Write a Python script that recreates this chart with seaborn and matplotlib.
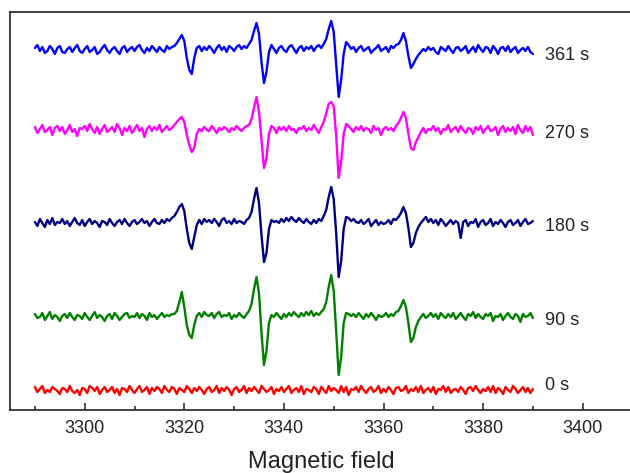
import numpy as np
import matplotlib
matplotlib.use("Agg")
import matplotlib.pyplot as plt
from matplotlib.ticker import MultipleLocator
import seaborn as sns

# field axis of the recorded spectra (gauss), 0.5 G steps
field = np.arange(3290, 3390.5, 0.5)

# signal, relative to each trace's baseline
sig_361 = [
    2, 5, -1, 3, -3, -1, 4, 1, -4, 2,
    4, -2, -3, 1, 3, -2, 2, 5, -1, -3,
    1, 4, -2, 0, 3, -4, -2, 2, 5, 0,
    -3, 1, 3, -1, -4, 2, 4, -2, 1, 3,
    -1, 3, 5, 0, -3, 2, -1, 4, 1, -2,
    3, 0, -2, 4, 1, 3, 4, 7, 11, 15,
    9, -8, -20, -24, -8, 2, 4, -1, 3, 0,
    4, 1, -3, 2, 5, 0, 3, -2, 4, 2,
    -1, 3, 5, 1, 4, 2, 6, 10, 19, 27,
    16, -12, -33, -22, -2, 5, 1, -3, 2, 4,
    0, -2, 3, 5, 1, -3, 2, 4, -1, 3,
    1, 4, -1, 3, 5, 2, 6, 11, 21, 29,
    18, -14, -47, -30, -4, 8, 5, 1, 3, -2,
    2, 4, -1, 1, 3, -3, 0, 2, 5, -1,
    1, 3, -2, 4, 2, 5, 6, 10, 17, 9,
    -6, -18, -14, -9, -5, -2, 1, -1, 3, 0,
    2, -2, -4, 3, 1, -1, 4, 0, -3, 2,
    3, -1, 1, 4, -3, 0, 3, -2, 5, 1,
    -2, 3, 2, -3, 4, 1, -4, 2, 3, -1,
    4, -2, 1, 3, -3, 0, 2, -1, 3, -2,
    -4]

sig_270 = [
    3, -3, 1, 5, -2, 0, 3, -5, 2, 4,
    -1, 3, -4, 0, 5, -2, 1, -6, 2, 1,
    4, -1, 6, 1, -3, 3, -4, 1, 5, -2,
    0, 3, -2, 6, 2, -5, 2, -1, 4, -3,
    1, 5, -1, 2, -7, 1, 4, -1, 3, 0,
    5, -2, 1, 4, 0, 2, 5, 8, 11, 13,
    8, -5, -15, -22, -18, -4, 1, -1, 3, 0,
    -1, 4, 1, -3, 2, 0, 3, 1, -2, 2,
    0, 4, 1, -1, 2, 4, 5, 11, 22, 33,
    18, -10, -38, -28, -4, 4, 2, -3, 3, 0,
    3, -1, 4, 0, 1, -3, 2, 1, 4, -1,
    2, 0, 5, 1, -3, 3, 8, 17, 26, 28,
    24, -6, -48, -32, -4, 6, 4, 1, -2, 3,
    0, 4, -1, 2, 1, -3, 4, 0, 2, -5,
    1, 3, 0, 2, -1, 4, 7, 12, 18, 12,
    -4, -18, -20, -12, -7, -2, 2, -3, 1, 0,
    4, -1, 2, -4, 1, 0, 5, -2, 1, 3,
    -2, 4, 0, -3, 2, 1, -4, 3, 0, 4,
    -3, 1, 4, -1, 0, 3, -5, 1, 4, -2,
    2, -1, 3, -4, 5, 0, -3, 4, -1, 3,
    -5]

sig_180 = [
    1, -3, 4, 0, -4, 3, -1, 5, -2, 1,
    0, 4, -1, 2, -3, 1, 5, 0, -2, 3,
    -3, 1, 4, -1, 2, 0, -4, 2, 1, -2,
    4, 0, -3, 1, 3, -1, 4, 0, -3, 1,
    3, -1, 1, 4, 0, 2, -3, 1, 4, 0,
    -1, 3, 0, 4, 2, 5, 7, 11, 16, 19,
    12, -6, -20, -26, -14, -2, 3, -1, 4, 1,
    3, 0, 4, 1, -3, 3, 5, 0, 2, -1,
    4, 0, 2, 1, -1, 3, 5, 11, 24, 35,
    20, -12, -39, -30, -6, 3, 1, 2, 0, 4,
    1, 5, 2, 6, 3, 1, 5, 2, 0, 4,
    1, -1, 3, 0, 4, 2, 7, 13, 26, 36,
    24, -10, -54, -38, -6, 6, 5, 2, 4, 1,
    0, 3, -1, 1, 4, -3, 0, 3, -2, 1,
    -1, 0, 3, -1, 4, 3, 6, 10, 16, 10,
    -5, -24, -20, -10, -4, 0, 3, 6, 1, 4,
    0, 3, -2, 4, 1, -3, 0, 3, -1, 2,
    0, -15, 1, 3, -3, 1, 0, 4, -4, 1,
    3, -2, 0, 4, -3, 1, -1, 3, 0, -4,
    1, 3, -2, 0, 3, -3, 1, 4, -1, 0,
    2]

sig_90 = [
    3, -1, 0, 4, -3, 1, 5, -2, 2, 0,
    -4, 1, 3, -1, 4, 0, -3, 2, 1, -2,
    4, 0, -3, 1, 5, -1, 2, 0, -4, 1,
    3, -2, 4, 1, -3, 0, 3, 4, -1, 1,
    0, 4, -1, 3, 1, -3, 4, 0, 2, -2,
    1, 4, 0, 2, 1, 3, 3, 6, 15, 25,
    10, -8, -18, -21, -8, 1, 4, 0, 5, 2,
    1, 4, -1, 3, 5, 0, 2, 1, 4, -2,
    2, 0, 4, 1, -1, 3, 6, 13, 28, 40,
    24, -16, -48, -34, -6, 2, 0, 4, 1, -2,
    3, 0, 4, 1, 5, 2, 0, 4, 1, 5,
    2, 6, 1, 4, 2, 5, 8, 15, 30, 42,
    26, -14, -58, -40, -6, 4, 3, 1, 3, 0,
    4, 1, -2, 3, 0, 4, 1, -3, 2, 0,
    1, 4, 0, 3, 1, 5, 6, 11, 17, 10,
    -6, -25, -21, -10, -4, 0, 3, -1, 1, 4,
    0, 3, -2, 4, 1, -1, 3, 0, 4, -2,
    1, 4, 0, -3, 3, 1, 5, -1, 3, 0,
    -2, 3, 1, 4, -4, 1, 0, 3, -3, 1,
    4, 0, -2, 3, 1, -5, 3, 0, 1, 4,
    -1]

sig_0 = [
    3, -2, 1, 4, -3, 0, -2, 3, 1, -1,
    -4, 2, 1, -2, 4, -1, -3, 0, -5, 2,
    1, -3, 4, 2, -1, 3, -4, 0, 3, -2,
    0, 3, -3, 1, -5, 2, 1, -2, 4, 0,
    -3, 1, 4, -2, 0, 3, -4, 2, -1, 3,
    1, -3, 4, 0, -2, 3, 1, -4, 2, 0,
    -2, 4, 1, -3, 2, -1, 3, 0, -4, 1,
    3, -2, 0, 4, -3, 2, -1, 3, 0, -5,
    1, 3, -2, 0, 4, -3, 2, -1, 3, 0,
    -3, 4, 1, -2, 0, 3, -4, 1, -1, 3,
    -2, 1, 4, -3, 0, 2, -2, 4, -4, 1,
    0, -2, 3, 1, -4, 3, 0, -3, 4, -1,
    2, 0, -3, 4, -2, 3, -5, 1, 0, 3,
    -2, 4, 0, -3, 1, 3, -2, 0, 4, -3,
    1, -2, 3, 0, -4, 2, 3, -1, 0, 4,
    -3, 1, -1, 3, -2, 4, -3, 0, 2, -2,
    3, -4, 1, 0, 4, -2, 3, -3, 0, 1,
    -2, 3, 0, -4, 2, 3, -1, 4, 0, -3,
    1, -1, 3, -2, 4, -3, 2, 0, -4, 3,
    0, -2, 4, 1, -3, 0, 3, -2, 2, -3,
    1]

labels = ["361 s", "270 s", "180 s", "90 s", "0 s"]
signals = [sig_361, sig_270, sig_180, sig_90, sig_0]
offsets = [360, 280, 187, 93, 20]
colors = ["#0000ff", "#ff00ff", "#000080", "#008000", "#ff0000"]
label_dy = [-5, -3, -3, -3, 5]

sns.set_style("ticks")
plt.rcParams['font.family'] = ['Liberation Sans', 'DejaVu Sans']

fig = plt.figure(figsize=(6.3, 4.73), dpi=100)
ax = fig.add_axes([10 / 630, 63 / 473, 622.5 / 630, 398 / 473])

for lab, sig, off, col, dy in zip(labels, signals, offsets, colors, label_dy):
    sns.lineplot(x=field, y=np.array(sig) + off, color=col, lw=1.7,
                 estimator=None, ax=ax)
    ax.text(3392.5, off + dy, lab, fontsize=13, color="#222222",
            ha="left", va="center")

ax.set_xlim(3285, 3410)
ax.set_ylim(0, 398)
ax.set_xticks(range(3300, 3401, 20))
ax.xaxis.set_minor_locator(MultipleLocator(10))
ax.set_yticks([])
ax.tick_params(axis="x", which="major", direction="in", length=5, width=1.1,
               labelsize=13, pad=7, colors="#222222")
ax.tick_params(axis="x", which="minor", direction="in", length=3, width=1.1,
               colors="#222222")
for s in ["left", "top", "bottom"]:
    ax.spines[s].set_linewidth(1.2)
    ax.spines[s].set_color("#222222")
ax.spines["right"].set_visible(False)
ax.set_xlabel("Magnetic field", fontsize=17, labelpad=10, color="#222222")
ax.set_ylabel("")

fig.savefig("out.png", dpi=100)
